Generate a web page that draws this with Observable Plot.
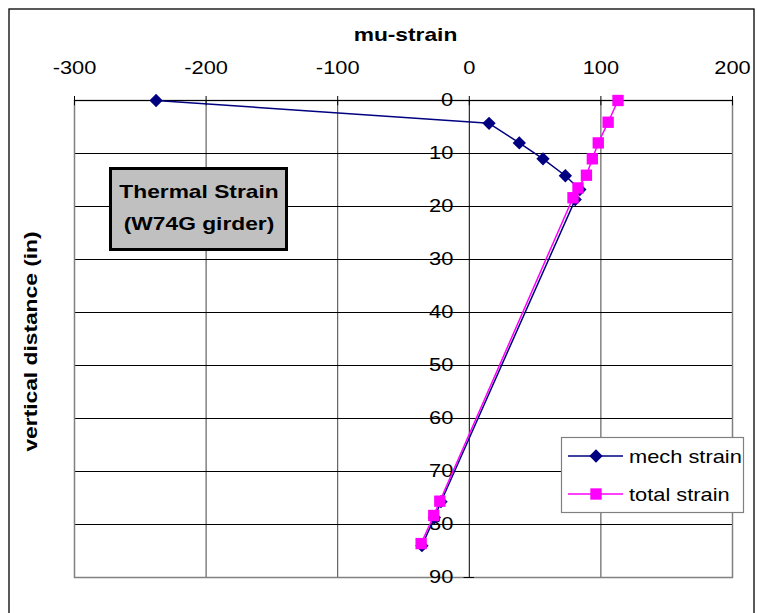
<!DOCTYPE html>
<html>
<head>
<meta charset="utf-8">
<script src="https://cdn.jsdelivr.net/npm/d3@7"></script>
<script src="https://cdn.jsdelivr.net/npm/@observablehq/plot@0.6"></script>
<style>
  html, body { margin: 0; padding: 0; background: #fff; }
  body { width: 757px; height: 613px; overflow: hidden; }
</style>
</head>
<body>
<script>
// ---- data ----
const mechStrain  = [-238, 15, 38, 56, 73, 84, 80.5, -21.5, -26.5, -36];
const mechDepth   = [0, 4.3, 8, 11, 14.2, 16.8, 18.7, 75.7, 78.7, 84];
const totalStrain = [113, 105.5, 98, 93.5, 89, 82.6, 78.8, -22.4, -27, -36.6];
const totalDepth  = [0, 4.1, 8, 11, 14.1, 16.5, 18.35, 75.6, 78.3, 83.6];

const xTicks = [-300, -200, -100, 0, 100, 200];
const xGridTicks = [-200, -100, 100];
const yTicks = [0, 10, 20, 30, 40, 50, 60, 70, 80, 90];
const yGridTicks = [10, 20, 30, 40, 50, 60, 70, 80];

const xLabel = "mu-strain";
const yLabel = "vertical distance (in)";
const seriesNames = ["mech strain", "total strain"];
const titleLines = ["Thermal Strain", "(W74G girder)"];

const mech = mechStrain.map((s, i) => ({strain: s, depth: mechDepth[i]}));
const total = totalStrain.map((s, i) => ({strain: s, depth: totalDepth[i]}));

const NAVY = "#000080", MAGENTA = "#ff00ff";
const FONT = "'Liberation Sans', Arial, sans-serif";

const chart = Plot.plot({
  width: 757,
  height: 613,
  marginLeft: 74,
  marginRight: 25,
  marginTop: 100,
  marginBottom: 36,
  style: {fontFamily: FONT, fontSize: "18.5px", background: "#fff", overflow: "visible", color: "#000"},
  x: {domain: [-300, 200], axis: null},
  y: {domain: [0, 90], reverse: true, axis: null},
  marks: [
    Plot.gridX(xGridTicks, {stroke: "#444", strokeOpacity: 1}),
    Plot.gridY(yGridTicks, {stroke: "#000", strokeOpacity: 1}),
    Plot.frame({stroke: "#808080", strokeWidth: 1.5}),
    Plot.ruleY([0], {stroke: "#000"}),
    Plot.ruleX([0], {stroke: "#000"}),
    Plot.axisX({anchor: "top", ticks: xTicks, tickSize: 5, tickPadding: 22, label: null,
                tickFormat: d => String(d), fontSize: "18.5px"}),
    Plot.ruleX(xTicks, {y1: 0, y2: 1, stroke: "#000"}),
    Plot.ruleY(yTicks, {x1: -4, x2: 4, stroke: "#000"}),
    Plot.text(yTicks, {x: 0, y: d => d, text: d => String(d), dx: -16, textAnchor: "end", lineAnchor: "middle"}),
    Plot.text([xLabel], {text: d => d, frameAnchor: "top", textAnchor: "middle", lineAnchor: "middle", dy: -65, dx: 2, fontWeight: "bold"}),
    Plot.text([yLabel], {text: d => d, frameAnchor: "left", textAnchor: "middle", lineAnchor: "middle", rotate: -90, dx: -43, dy: 2.5, fontWeight: "bold"}),
    Plot.line(mech, {x: "strain", y: "depth", stroke: NAVY, strokeWidth: 1.5}),
    Plot.dot(mech, {x: "strain", y: "depth", symbol: "diamond2", r: 6, fill: NAVY, stroke: "none"}),
    Plot.line(total, {x: "strain", y: "depth", stroke: MAGENTA, strokeWidth: 1.5}),
    Plot.dot(total, {x: "strain", y: "depth", symbol: "square", r: 6.4, fill: MAGENTA, stroke: "none"})
  ]
});

document.body.append(chart);
const svg = d3.select(chart);

// title box
const tb = svg.append("g");
tb.append("rect").attr("x", 110.5).attr("y", 168.5).attr("width", 176).attr("height", 81)
  .attr("fill", "#c0c0c0").attr("stroke", "#000").attr("stroke-width", 3);
tb.selectAll("text").data(titleLines).join("text")
  .attr("x", 199).attr("y", (d, i) => i === 0 ? 198.3 : 230)
  .attr("text-anchor", "middle").attr("font-weight", "bold")
  .attr("font-family", FONT).attr("font-size", 18.5)
  .text(d => d);

// legend
const lg = svg.append("g");
lg.append("rect").attr("x", 561.5).attr("y", 437.5).attr("width", 182).attr("height", 75)
  .attr("fill", "#fff").attr("stroke", "#808080").attr("stroke-width", 1.2);
const legendRows = [
  {name: seriesNames[0], color: NAVY, sym: d3.symbolDiamond2, size: Math.PI * 6 * 6, y: 456},
  {name: seriesNames[1], color: MAGENTA, sym: d3.symbolSquare, size: Math.PI * 6.4 * 6.4, y: 494}
];
legendRows.forEach(r => {
  lg.append("line").attr("x1", 568).attr("x2", 623).attr("y1", r.y).attr("y2", r.y)
    .attr("stroke", r.color).attr("stroke-width", 1.5);
  lg.append("path").attr("d", d3.symbol(r.sym, r.size)()).attr("transform", `translate(596,${r.y})`)
    .attr("fill", r.color);
  lg.append("text").attr("x", 629).attr("y", r.y + 7).attr("font-family", FONT)
    .attr("text-anchor", "start").attr("font-size", 18.5).text(r.name);
});

// outer chart border
svg.append("rect").attr("x", 9).attr("y", 9).attr("width", 745).attr("height", 700)
  .attr("fill", "none").attr("stroke", "#000").attr("stroke-width", 1.3);

// Excel-like horizontally stretched text
chart.querySelectorAll("text").forEach(t => {
  const bold = +getComputedStyle(t).fontWeight >= 600;
  const k = bold ? 1.23 : 1.18;
  const L = t.getComputedTextLength();
  if (L > 0) {
    t.setAttribute("textLength", (L * k).toFixed(1));
    t.setAttribute("lengthAdjust", "spacingAndGlyphs");
  }
});
</script>
</body>
</html>
